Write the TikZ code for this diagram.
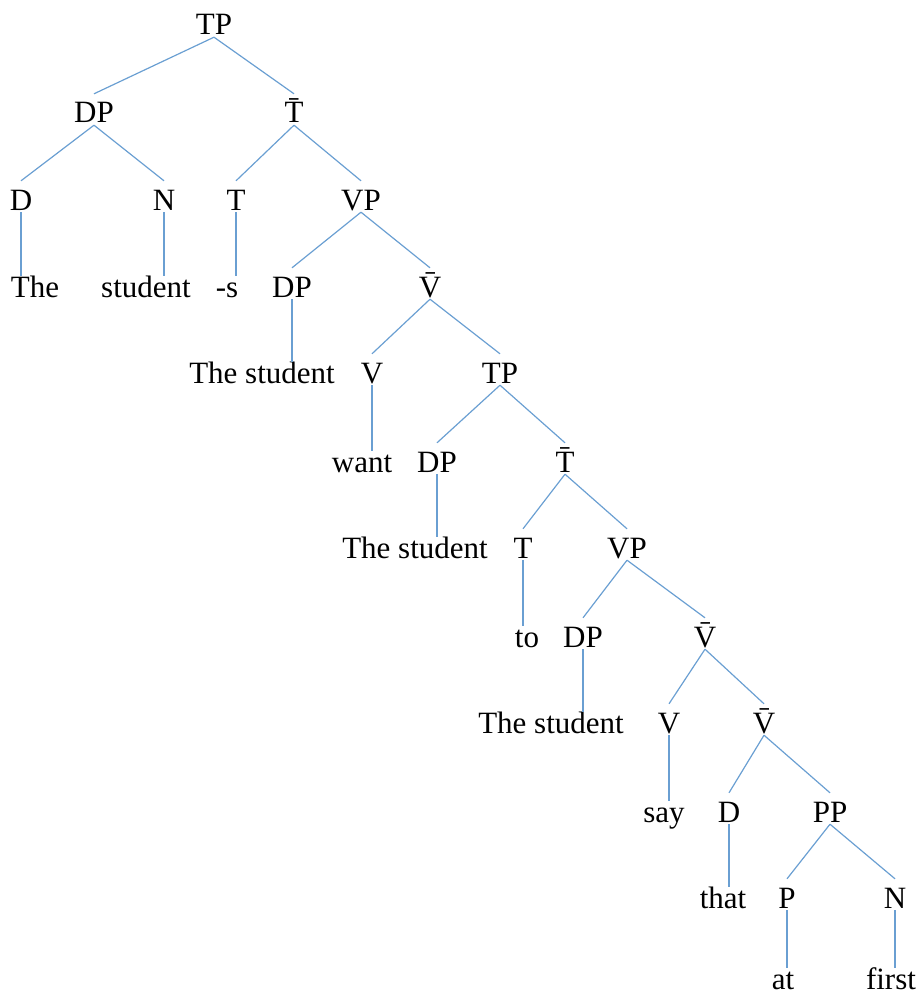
\documentclass[tikz,border=0pt]{standalone}
\usepackage{fontspec}
\setmainfont{Liberation Serif}
\definecolor{edgeblue}{HTML}{6A9FD2}
\begin{document}
\begin{tikzpicture}[x=1pt,y=-1pt,
  lab/.style={anchor=base,inner sep=0pt,text height=21pt,text depth=2pt,font=\fontsize{31}{31}\selectfont},
  edge/.style={draw=edgeblue,line width=1.2pt}]
\useasboundingbox (0,0) rectangle (919,995);
\node[lab] (TPa) at (214,35) {TP};
\node[lab] (DPa) at (94,123) {DP};
\node[lab] (Tba) at (294,123) {\={T}};
\node[lab] (Da) at (21,210) {D};
\node[lab] (Na) at (164,210) {N};
\node[lab] (Ta) at (236,210) {T};
\node[lab] (VPa) at (361,210) {VP};
\node[lab] (The) at (35,297) {The};
\node[lab] (stud) at (146,297) {student};
\node[lab] (s) at (227,297) {-s};
\node[lab] (DPb) at (292,297) {DP};
\node[lab] (Vba) at (430,297) {\={V}};
\node[lab] (TSa) at (262,383) {The student};
\node[lab] (Va) at (372,383) {V};
\node[lab] (TPb) at (500,383) {TP};
\node[lab] (want) at (362,472) {want};
\node[lab] (DPc) at (437,472) {DP};
\node[lab] (Tbb) at (565,472) {\={T}};
\node[lab] (TSb) at (415,558) {The student};
\node[lab] (Tb) at (523,558) {T};
\node[lab] (VPb) at (627,558) {VP};
\node[lab] (to) at (527,647) {to};
\node[lab] (DPd) at (583,647) {DP};
\node[lab] (Vbb) at (705,647) {\={V}};
\node[lab] (TSc) at (551,733) {The student};
\node[lab] (Vb) at (669,733) {V};
\node[lab] (Vbc) at (764,733) {\={V}};
\node[lab] (say) at (664,822) {say};
\node[lab] (Db) at (729,822) {D};
\node[lab] (PP) at (830,822) {PP};
\node[lab] (that) at (723,908) {that};
\node[lab] (P) at (787,908) {P};
\node[lab] (Nb) at (895,908) {N};
\node[lab] (at) at (783,989) {at};
\node[lab] (first) at (891,989) {first};
\foreach \p/\c in {TPa/DPa,TPa/Tba,DPa/Da,DPa/Na,Tba/Ta,Tba/VPa,VPa/DPb,VPa/Vba,
  Vba/Va,Vba/TPb,TPb/DPc,TPb/Tbb,Tbb/Tb,Tbb/VPb,VPb/DPd,VPb/Vbb,Vbb/Vb,Vbb/Vbc,
  Vbc/Db,Vbc/PP,PP/P,PP/Nb}
  \draw[edge] (\p.south) -- ([yshift=8pt]\c.north);
\foreach \p/\c in {Da/The,Na/stud,Ta/s,DPb/TSa,Va/want,DPc/TSb,Tb/to,DPd/TSc,
  Vb/say,Db/that,P/at,Nb/first}
  \draw[edge] (\p.south) -- (\p.south |- \c.north);
\end{tikzpicture}
\end{document}
